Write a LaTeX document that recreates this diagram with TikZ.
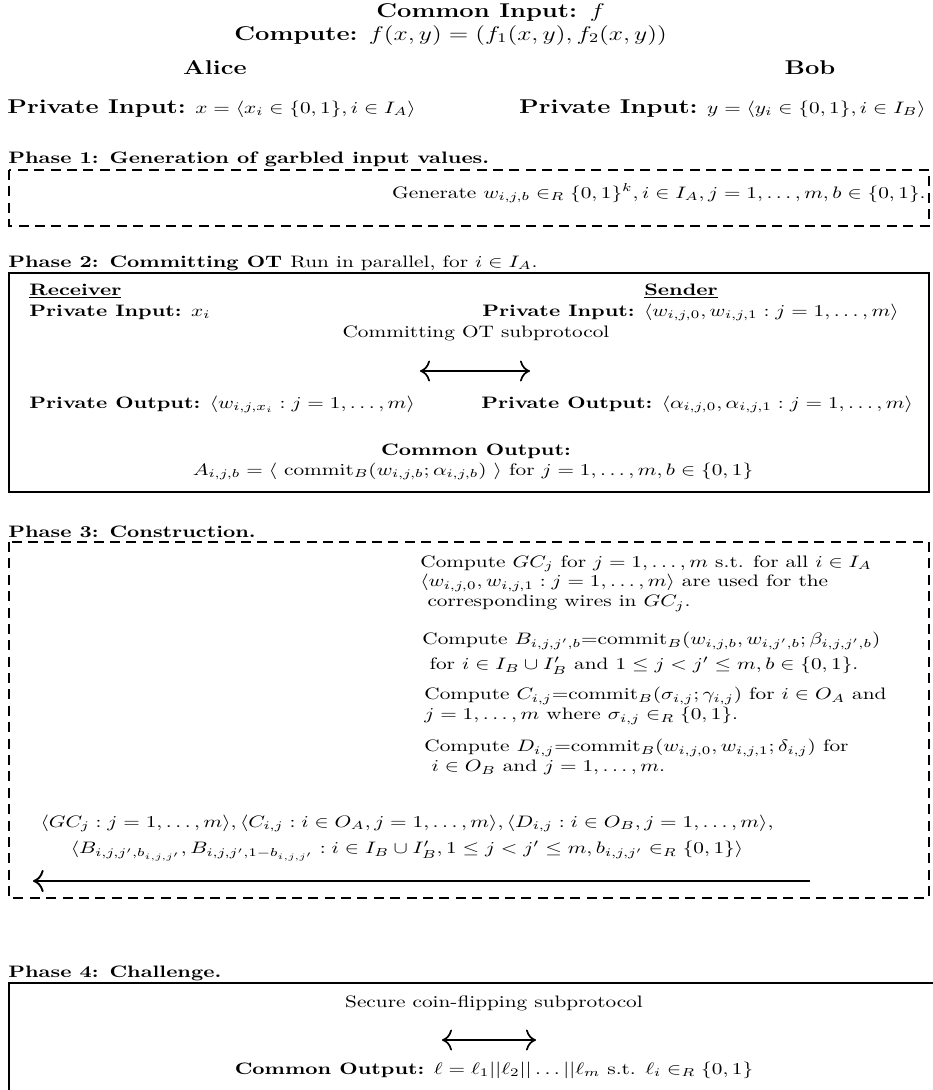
\documentclass[tikz,border=0pt]{standalone}
\usepackage{amsmath,amssymb}
\usetikzlibrary{arrows.meta}
\tikzset{
  phaselbl/.style={anchor=base west,font=\bfseries},
  solidbox/.style={draw,line width=0.6pt},
  dashbox/.style={draw,line width=0.6pt,dash pattern=on 4.7pt off 3pt},
  twoway/.style={line width=0.8pt,{Computer Modern Rightarrow[scale=1.4]}-{Computer Modern Rightarrow[scale=1.4]}},
  oneway/.style={line width=0.9pt,{Computer Modern Rightarrow[scale=1.4]}-},
}
\begin{document}
\begin{tikzpicture}[x=0.47pt,y=-0.47pt,every node/.style={inner sep=0pt,yscale=0.78}]
  \useasboundingbox (0,0) rectangle (933,1090);
  % parties
  \node[font=\large\bfseries,anchor=base west] (common) at (376,17) {Common Input: $f$};
  \node[font=\large,anchor=base west] (compute) at (234,40) {\textbf{Compute:} $f(x,y)=(f_1(x,y),f_2(x,y))$};
  \node[font=\large\bfseries,anchor=base] (alice) at (215,74) {Alice};
  \node[font=\large\bfseries,anchor=base] (bob) at (810,74) {Bob};
  \node[anchor=base west] (ina) at (7,113) {\textbf{\large Private Input:} $x=\langle x_i\in\{0,1\},i\in I_A\rangle$};
  \node[anchor=base east] (inb) at (926,113) {\textbf{\large Private Input:} $y=\langle y_i\in\{0,1\},i\in I_B\rangle$};
  % phase 1
  \node[phaselbl] (p1) at (8,163) {Phase 1: Generation of garbled input values.};
  \draw[dashbox] (9,170) rectangle (929,226);
  \node[anchor=base east] (gen) at (926,198) {Generate $w_{i,j,b}\in_R\{0,1\}^k,i\in I_A,j=1,\ldots,m,b\in\{0,1\}$.};
  % phase 2
  \node[phaselbl] (p2) at (8,267) {Phase 2: Committing OT \mdseries Run in parallel, for $i\in I_A$.};
  \draw[solidbox] (9,273) rectangle (929,492);
  \node[anchor=base west,font=\bfseries] (recv) at (29,295) {\underline{Receiver}};
  \node[anchor=base west] (recvin) at (29,316) {\textbf{Private Input:} $x_i$};
  \node[anchor=base,font=\bfseries] (send) at (681,295) {\underline{Sender}};
  \node[anchor=base west] (sendin) at (482,316) {\textbf{Private Input:} $\langle w_{i,j,0},w_{i,j,1}:j=1,\ldots,m\rangle$};
  \node[anchor=base] (otsub) at (476,337) {Committing OT subprotocol};
  \coordinate (otl) at (420,371);
  \coordinate (otr) at (530,371);
  \draw[twoway] (otl) -- (otr);
  \node[anchor=base west] (recvout) at (29,408) {\textbf{Private Output:} $\langle w_{i,j,x_i}:j=1,\ldots,m\rangle$};
  \node[anchor=base west] (sendout) at (481,408) {\textbf{Private Output:} $\langle\alpha_{i,j,0},\alpha_{i,j,1}:j=1,\ldots,m\rangle$};
  \node[anchor=base,font=\bfseries] (comout) at (476,455) {Common Output:};
  \node[anchor=base] (comval) at (473,475) {$A_{i,j,b}=\langle\ \mathrm{commit}_B(w_{i,j,b};\alpha_{i,j,b})\ \rangle$ for $j=1,\ldots,m,b\in\{0,1\}$};
  % phase 3
  \node[phaselbl] (p3) at (8,537) {Phase 3: Construction.};
  \draw[dashbox] (9,542) rectangle (929,898);
  \node[anchor=north west,align=left] (gc) at (420,555) {Compute $GC_j$ for $j=1,\ldots,m$ s.t. for all $i\in I_A$\\
    $\langle w_{i,j,0},w_{i,j,1}:j=1,\ldots,m\rangle$ are used for the\\
    \ corresponding wires in $GC_j$.};
  \node[anchor=north west,align=left] (bc) at (422,632) {Compute $B_{i,j,j',b}$=commit$_B(w_{i,j,b},w_{i,j',b};\beta_{i,j,j',b})$\\[3pt]
    \ for $i\in I_B\cup I'_B$ and $1\leq j<j'\leq m,b\in\{0,1\}$.};
  \node[anchor=north west,align=left] (cc) at (424,687) {Compute $C_{i,j}$=commit$_B(\sigma_{i,j};\gamma_{i,j})$ for $i\in O_A$ and\\
    $j=1,\ldots,m$ where $\sigma_{i,j}\in_R\{0,1\}$.};
  \node[anchor=north west,align=left] (dc) at (424,739) {Compute $D_{i,j}$=commit$_B(w_{i,j,0},w_{i,j,1};\delta_{i,j})$ for\\
    \ $i\in O_B$ and $j=1,\ldots,m$.};
  \node[align=center] (sent) at (407,838) {$\langle GC_j:j=1,\ldots,m\rangle,\langle C_{i,j}:i\in O_A,j=1,\ldots,m\rangle,\langle D_{i,j}:i\in O_B,j=1,\ldots,m\rangle$,\\[4pt]
    $\langle B_{i,j,j',b_{i,j,j'}},B_{i,j,j',1-b_{i,j,j'}}:i\in I_B\cup I'_B,1\leq j<j'\leq m,b_{i,j,j'}\in_R\{0,1\}\rangle$};
  \coordinate (sentl) at (33,881);
  \coordinate (sentr) at (810,881);
  \draw[oneway] (sentl) -- (sentr);
  % phase 4
  \node[phaselbl] (p4) at (8,977) {Phase 4: Challenge.};
  \draw[solidbox] (9,983) rectangle (945,1100);
  \node[anchor=base] (coin) at (494,1007) {Secure coin-flipping subprotocol};
  \coordinate (coinl) at (442,1040);
  \coordinate (coinr) at (536,1040);
  \draw[twoway] (coinl) -- (coinr);
  \node[anchor=base] (coinout) at (494,1074) {\textbf{Common Output:} $\ell=\ell_1||\ell_2||\ldots||\ell_m$ s.t. $\ell_i\in_R\{0,1\}$};
\end{tikzpicture}
\end{document}
